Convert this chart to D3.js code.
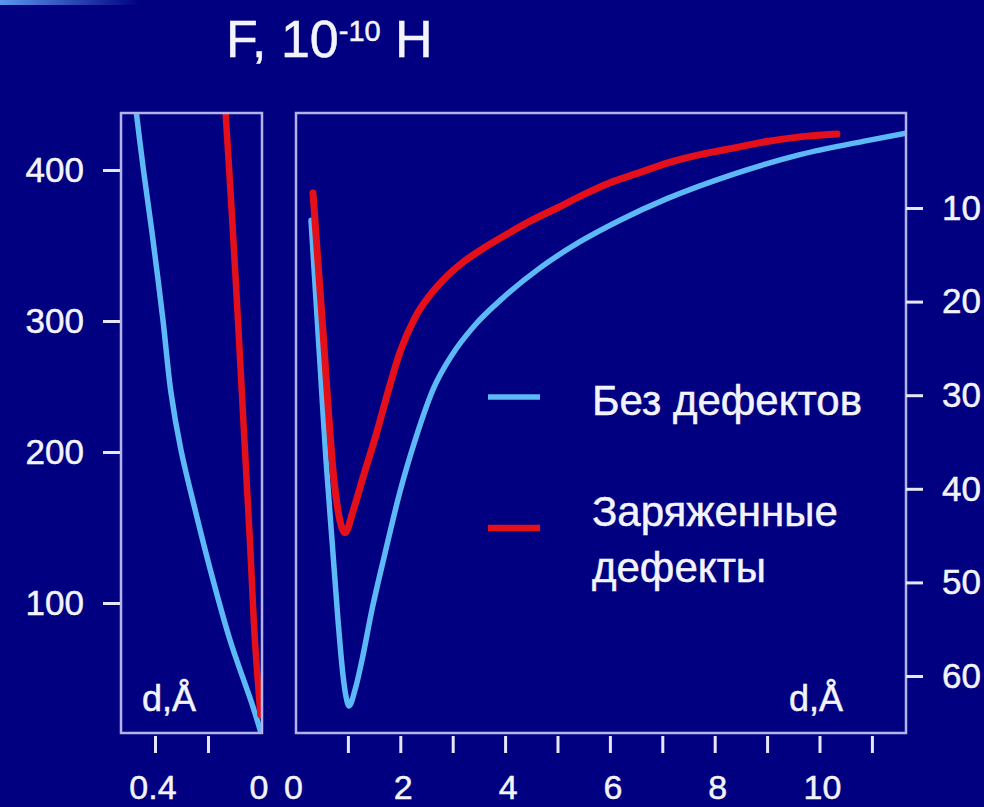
<!DOCTYPE html>
<html>
<head>
<meta charset="utf-8">
<script src="https://cdn.jsdelivr.net/npm/d3@7"></script>
<style>
  html, body { margin: 0; padding: 0; background: #000080; overflow: hidden; }
  svg { display: block; }
  text { font-family: "Liberation Sans", Arial, Helvetica, sans-serif; fill: #f3f3fb; stroke: #f3f3fb; stroke-width: 0.5px; }
</style>
</head>
<body>
<svg id="chart" width="984" height="807"></svg>
<script>
// ---- Data -------------------------------------------------------------
// Left panel: short separations (d, Å) with the large force scale (F, 10^-10 H)
const leftBlueD = [0.475, 0.445, 0.411, 0.370, 0.340, 0.302, 0.253, 0.189, 0.117, 0.030, 0.0];
const leftBlueF = [444.4, 402.0, 358.3, 300.7, 245.8, 201.5, 164.9, 120.5, 75.5, 31.1, 13.9];
const leftRedD  = [0.136, 0.113, 0.087, 0.064, 0.042, 0.023, 0.002];
const leftRedF  = [444.4, 380.0, 300.7, 214.5, 141.7, 75.5, 25.8];

// Right panel: separations 0–11.6 Å, attractive force magnitude on the right axis
const rightBlueD = [0.296, 0.391, 0.487, 0.582, 0.697, 0.811, 0.906, 0.964, 1.021, 1.135, 1.269, 1.460, 1.708, 1.994,
                    2.300, 2.624, 2.987, 3.426, 3.960, 4.666, 5.429, 6.193, 7.090, 8.349, 9.628, 10.906, 11.65];
const rightBlueF = [11.3, 19.8, 28.4, 36.9, 45.5, 54.0, 59.9, 62.2, 63.2, 61.5, 58.3, 52.9, 46.9, 40.3,
                    34.5, 29.4, 25.7, 22.5, 19.6, 16.4, 13.6, 11.3, 9.0, 6.4, 4.3, 2.8, 2.0];
const rightRedD  = [0.334, 0.429, 0.525, 0.620, 0.716, 0.811, 0.887, 0.945, 1.097, 1.288, 1.555, 1.803, 1.994, 2.281,
                    2.567, 2.853, 3.197, 3.616, 4.036, 4.513, 4.990, 5.487, 6.002, 6.574, 7.090, 7.719, 8.349, 8.998, 9.628, 10.334];
const rightRedF  = [8.4, 15.8, 23.2, 31.0, 38.0, 42.3, 44.2, 44.7, 42.4, 38.8, 33.9, 28.9, 25.4, 21.7,
                    19.3, 17.5, 15.8, 14.2, 12.8, 11.3, 10.0, 8.6, 7.3, 6.2, 5.2, 4.3, 3.6, 2.9, 2.4, 2.1];

// Axis ticks and labels
const leftYTicks   = [100, 200, 300, 400];
const rightYTicks  = [10, 20, 30, 40, 50, 60];
const leftXTicks   = [0.4, 0.2];
const leftXLabels  = [0.4, 0];
const rightXTicks  = [1, 2, 3, 4, 5, 6, 7, 8, 9, 10, 11];
const rightXLabels = [0, 2, 4, 6, 8, 10];

const seriesNames  = ["Без дефектов", "Заряженные дефекты"];
const seriesColors = ["#5db9f6", "#e3101c"];

// ---- Layout -----------------------------------------------------------
const svg = d3.select("#chart");
const frameColor = "#b3b3ea";
const tickColor = "#e6e6f4";

const leftBox  = { x0: 121, x1: 262, y0: 113, y1: 733 };
const rightBox = { x0: 296, x1: 906, y0: 113, y1: 733 };

// Scales
const xLeft  = d3.scaleLinear().domain([0, 0.4]).range([261, 155]);
const yLeft  = d3.scaleLinear().domain(leftYTicks).range([603, 452, 321, 170]);
const xRight = d3.scaleLinear().domain([0, 11]).range([295.5, 871.9]);
const yRight = d3.scaleLinear().domain([0, 60]).range([114.4, 676]);

// Soft highlight strip in the top-left corner
const defs = svg.append("defs");
const grad = defs.append("linearGradient").attr("id", "topStrip");
grad.append("stop").attr("offset", "0%").attr("stop-color", "#5a96f0");
grad.append("stop").attr("offset", "100%").attr("stop-color", "#000080");
svg.append("rect").attr("x", 0).attr("y", 0).attr("width", 140).attr("height", 5).attr("fill", "url(#topStrip)");

// Clip paths for both panels
[["clipLeft", leftBox], ["clipRight", rightBox]].forEach(([id, b]) => {
  defs.append("clipPath").attr("id", id)
    .append("rect").attr("x", b.x0).attr("y", b.y0).attr("width", b.x1 - b.x0).attr("height", b.y1 - b.y0);
});

// Title: F, 10^-10 H
const title = svg.append("text").attr("x", 226).attr("y", 57).style("font-size", "52px");
title.append("tspan").text("F, 10");
title.append("tspan").attr("dy", -16).style("font-size", "29px").text("-10");
title.append("tspan").attr("dy", 16).text(" H");

// ---- Curves -----------------------------------------------------------
const zip = (a, b) => a.map((v, i) => [v, b[i]]);

const lineLeft = d3.line().x(d => xLeft(d[0])).y(d => yLeft(d[1])).curve(d3.curveCatmullRom.alpha(0.5));
const lineRight = d3.line().x(d => xRight(d[0])).y(d => yRight(d[1])).curve(d3.curveMonotoneX);

const gLeft = svg.append("g").attr("clip-path", "url(#clipLeft)");
gLeft.append("path").datum(zip(leftBlueD, leftBlueF)).attr("d", lineLeft)
  .attr("fill", "none").attr("stroke", seriesColors[0]).attr("stroke-width", 5.5).attr("stroke-linecap", "round");
gLeft.append("path").datum(zip(leftRedD, leftRedF)).attr("d", lineLeft)
  .attr("fill", "none").attr("stroke", seriesColors[1]).attr("stroke-width", 6.5).attr("stroke-linecap", "round");

const gRight = svg.append("g").attr("clip-path", "url(#clipRight)");
gRight.append("path").datum(zip(rightBlueD, rightBlueF)).attr("d", lineRight)
  .attr("fill", "none").attr("stroke", seriesColors[0]).attr("stroke-width", 5.5).attr("stroke-linecap", "round").attr("stroke-linejoin", "round");
gRight.append("path").datum(zip(rightRedD, rightRedF)).attr("d", lineRight)
  .attr("fill", "none").attr("stroke", seriesColors[1]).attr("stroke-width", 7).attr("stroke-linecap", "round").attr("stroke-linejoin", "round");

// ---- Frames -----------------------------------------------------------
[leftBox, rightBox].forEach(b => {
  svg.append("rect").attr("x", b.x0).attr("y", b.y0).attr("width", b.x1 - b.x0).attr("height", b.y1 - b.y0)
    .attr("fill", "none").attr("stroke", frameColor).attr("stroke-width", 2.5);
});

// ---- Axes -------------------------------------------------------------
function styleAxis(g) {
  g.select(".domain").remove();
  g.selectAll(".tick line").attr("stroke", tickColor).attr("stroke-width", 3);
  g.selectAll(".tick text").style("font-size", "35px").attr("fill", "#f3f3fb").style("font-family", null);
}

svg.append("g").attr("transform", `translate(${leftBox.x0 - 1},0)`)
  .call(d3.axisLeft(yLeft).tickValues(leftYTicks).tickSize(17).tickPadding(19).tickFormat(d3.format("d")))
  .call(styleAxis);

svg.append("g").attr("transform", `translate(${rightBox.x1},0)`)
  .call(d3.axisRight(yRight).tickValues(rightYTicks).tickSize(17).tickPadding(19).tickFormat(d3.format("d")))
  .call(styleAxis);

// Bottom tick marks sit just below the frames
svg.append("g").attr("transform", "translate(0,736)")
  .call(d3.axisBottom(xLeft).tickValues(leftXTicks).tickSize(17).tickFormat(""))
  .call(styleAxis);
svg.append("g").attr("transform", "translate(0,736)")
  .call(d3.axisBottom(xRight).tickValues(rightXTicks).tickSize(17).tickFormat(""))
  .call(styleAxis);

// Bottom tick labels
svg.append("g").selectAll("text").data(leftXLabels).join("text")
  .attr("x", d => xLeft(d) - 2).attr("y", 799).attr("text-anchor", "middle")
  .style("font-size", "34px").text(d => String(d));
svg.append("g").selectAll("text").data(rightXLabels).join("text")
  .attr("x", d => xRight(d) + (d === 0 ? -2 : 3)).attr("y", 799).attr("text-anchor", "middle")
  .style("font-size", "34px").text(d => String(d));

// Axis captions inside the panels
svg.append("text").attr("x", 142).attr("y", 711).style("font-size", "36px").text("d,Å");
svg.append("text").attr("x", 789).attr("y", 711).style("font-size", "36px").text("d,Å");

// ---- Legend -----------------------------------------------------------
const legend = svg.append("g");
legend.append("line").attr("x1", 488).attr("x2", 540).attr("y1", 397).attr("y2", 397)
  .attr("stroke", seriesColors[0]).attr("stroke-width", 5.5);
legend.append("line").attr("x1", 488).attr("x2", 540).attr("y1", 528).attr("y2", 528)
  .attr("stroke", seriesColors[1]).attr("stroke-width", 6.5);
legend.append("text").attr("x", 592).attr("y", 415).style("font-size", "42px").text(seriesNames[0]);
const parts = seriesNames[1].split(" ");
const t2 = legend.append("text").attr("x", 592).attr("y", 526).style("font-size", "42px");
t2.append("tspan").attr("x", 592).text(parts[0]);
t2.append("tspan").attr("x", 592).attr("dy", 56).text(parts[1]);
</script>
</body>
</html>
